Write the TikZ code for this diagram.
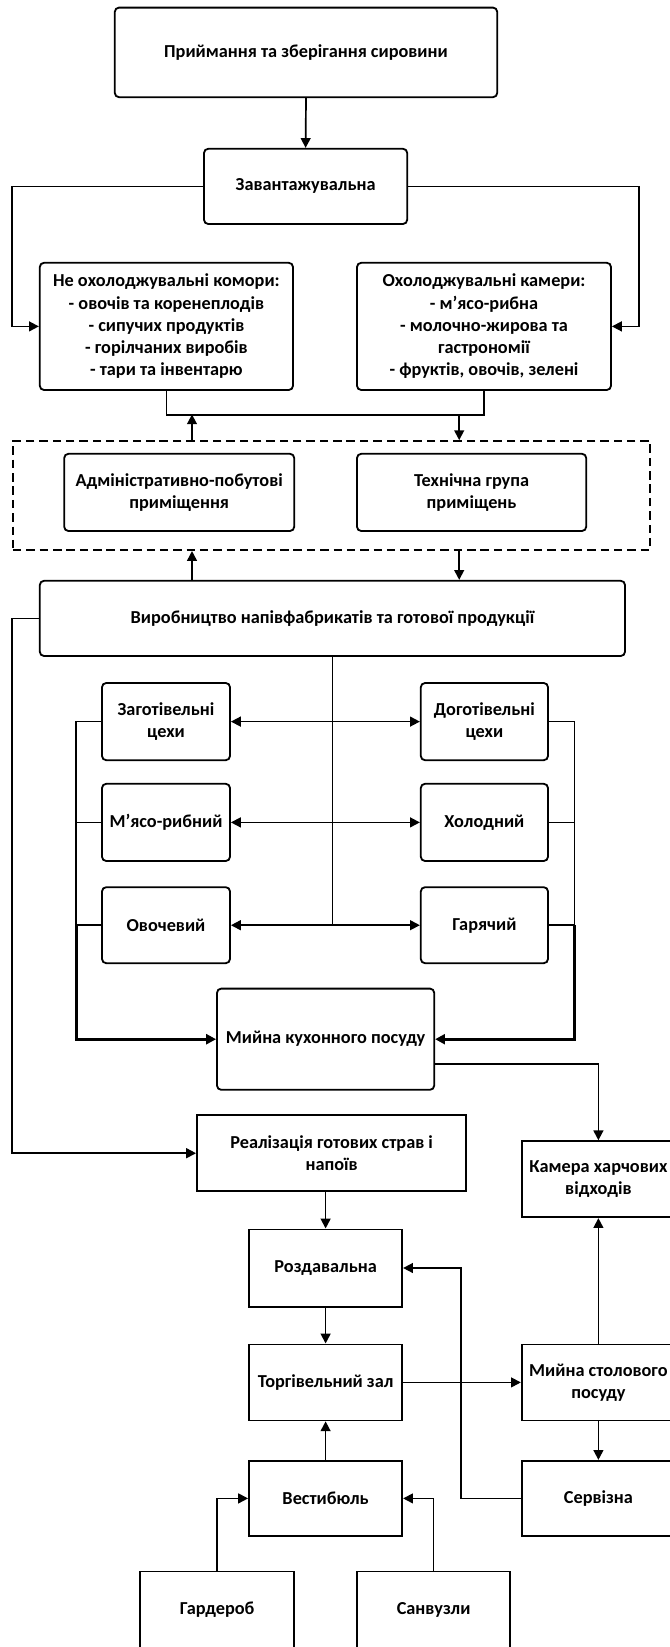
\documentclass[tikz,border=0pt]{standalone}
\usepackage{fontspec}
\setmainfont{Carlito}
\usetikzlibrary{arrows.meta}
\tikzset{
  room/.style={draw, line width=1.3pt, rounded corners=3pt, align=center, inner sep=1pt,
               font=\bfseries\fontsize{13}{15.8}\selectfont},
  hallroom/.style={room, sharp corners},
  link/.style={line width=1.2pt},
  flow/.style={link, -{Triangle[length=7pt,width=7pt]}},
  twoway/.style={link, {Triangle[length=7pt,width=7pt]}-{Triangle[length=7pt,width=7pt]}},
}

\begin{document}
\begin{tikzpicture}
            \useasboundingbox                                              ( 0.00,  0.00) rectangle (16.75,-41.175);
            \fill[white]                                                   ( 0.00,  0.00) rectangle (16.75,-41.175);
            \node[room, minimum width= 9.56cm, minimum height=2.24cm] (intake) at ( 7.65, -1.31) {Приймання та зберігання сировини};
            \node[room, minimum width= 5.08cm, minimum height=1.88cm] (dock)   at ( 7.64, -4.66) {Завантажувальна};
            \node[room, minimum width= 6.33cm, minimum height=3.18cm] (dry)    at ( 4.16, -8.16) {Не охолоджувальні комори:\\- овочів та коренеплодів\\- сипучих продуктів\\- горілчаних виробів\\- тари та інвентарю};
            \node[room, minimum width= 6.35cm, minimum height=3.18cm] (cold)   at (12.10, -8.16) {Охолоджувальні камери:\\- м'ясо-рибна\\- молочно-жирова та\\гастрономії\\- фруктів, овочів, зелені};
            \node[draw, line width=1.2pt, dash pattern=on 6pt off 3.5pt, minimum width=15.93cm, minimum height=2.73cm] (staff) at ( 8.29,-12.39) {};
            \node[room, minimum width= 5.75cm, minimum height=1.93cm] (admin)  at ( 4.48,-12.31) {Адміністративно-побутові\\приміщення};
            \node[room, minimum width= 5.73cm, minimum height=1.93cm] (tech)   at (11.79,-12.31) {Технічна група\\приміщень};
            \node[room, minimum width=14.63cm, minimum height=1.88cm] (prod)   at ( 8.31,-15.46) {Виробництво напівфабрикатів та готової продукції};
            \node[room, minimum width= 3.20cm, minimum height=1.93cm] (prep)   at ( 4.15,-18.04) {Заготівельні\\цехи};
            \node[room, minimum width= 3.18cm, minimum height=1.93cm] (fin)    at (12.11,-18.04) {Доготівельні\\цехи};
            \node[room, minimum width= 3.20cm, minimum height=1.93cm] (meat)   at ( 4.15,-20.56) {М'ясо-рибний};
            \node[room, minimum width= 3.18cm, minimum height=1.93cm] (coldsh) at (12.11,-20.56) {Холодний};
            \node[room, minimum width= 3.20cm, minimum height=1.90cm] (veg)    at ( 4.15,-23.13) {Овочевий};
            \node[room, minimum width= 3.18cm, minimum height=1.90cm] (hot)    at (12.11,-23.13) {Гарячий};
            \node[room, minimum width= 5.43cm, minimum height=2.53cm] (wash)   at ( 8.14,-25.98) {Мийна кухонного посуду};
            \node[hallroom, minimum width=6.73cm, minimum height=1.90cm] (sale)  at ( 8.29,-28.83) {Реалізація готових страв і\\напоїв};
            \node[hallroom, minimum width=3.83cm, minimum height=1.90cm] (waste) at (14.96,-29.48) {Камера харчових\\відходів};
            \node[hallroom, minimum width=3.83cm, minimum height=1.93cm] (hand)  at ( 8.14,-31.70) {Роздавальна};
            \node[hallroom, minimum width=3.83cm, minimum height=1.90cm] (hall)  at ( 8.14,-34.56) {Торгівельний зал};
            \node[hallroom, minimum width=3.83cm, minimum height=1.90cm] (dish)  at (14.96,-34.56) {Мийна столового\\посуду};
            \node[hallroom, minimum width=3.83cm, minimum height=1.88cm] (serv)  at (14.96,-37.46) {Сервізна};
            \node[hallroom, minimum width=3.83cm, minimum height=1.88cm] (lobby) at ( 8.14,-37.46) {Вестибюль};
            \node[hallroom, minimum width=3.85cm, minimum height=1.93cm] (ward)  at ( 5.43,-40.25) {Гардероб};
            \node[hallroom, minimum width=3.83cm, minimum height=1.93cm] (wc)    at (10.84,-40.25) {Санвузли};
            \coordinate (jl) at ( 4.80,-10.36);
            \coordinate (jr) at (11.48,-10.36);
            \draw[flow]   (intake.south) -- (dock.north);
            \draw[flow]   (dock.west) -| ([xshift=-0.67cm]dry.west) -- (dry.west);
            \draw[flow]   (dock.east) -| ([xshift= 0.68cm]cold.east) -- (cold.east);
            \draw[link]   (dry.south) -- ++(0,-0.61) -| (cold.south);
            \draw[flow]   (staff.north -| jl) -- (jl);
            \draw[flow]   (jr) -- (staff.north -| jr);
            \draw[flow]   (prod.north -| jl) -- (staff.south -| jl);
            \draw[flow]   (staff.south -| jr) -- (prod.north -| jr);
            \draw[flow]   (prod.west) -- ++(-0.67,0) |- (sale.west);
            \draw[link]   (prod.south) -- (prod.south |- veg.east);
            \foreach \l/\r in {prep/fin, meat/coldsh, veg/hot}
                \draw[twoway] (\l.east) -- (\r.west);
            \draw[link]   (prep.west) -- ++(-0.625,0) coordinate (cl) -- (cl |- veg.west);
            \draw[link]   (meat.west) -- (meat.west -| cl);
            \draw[link]   (veg.west) -- (veg.west -| cl);
            \draw[flow, line width=2.2pt] (veg.west -| cl) |- (wash.west);
            \draw[link]   (fin.east) -- ++(0.64,0) coordinate (cr) -- (cr |- hot.east);
            \draw[link]   (coldsh.east) -- (coldsh.east -| cr);
            \draw[link]   (hot.east) -- (hot.east -| cr);
            \draw[flow, line width=2.2pt] (hot.east -| cr) |- (wash.east);
            \draw[flow]   ([yshift=-0.62cm]wash.east) -| (waste.north);
            \draw[flow]   (sale.south -| hand.north) -- (hand.north);
            \draw[flow]   (hand.south) -- (hall.north);
            \draw[flow]   (hall.east) -- (dish.west);
            \draw[flow]   (dish.north) -- (waste.south);
            \draw[flow]   (dish.south) -- (serv.north);
            \draw[flow]   (serv.west) -- ++(-1.50,0) |- (hand.east);
            \draw[flow]   (lobby.north) -- (hall.south);
            \draw[flow]   (ward.north) |- (lobby.west);
            \draw[flow]   (wc.north) |- (lobby.east);
\end{tikzpicture}
\end{document}
